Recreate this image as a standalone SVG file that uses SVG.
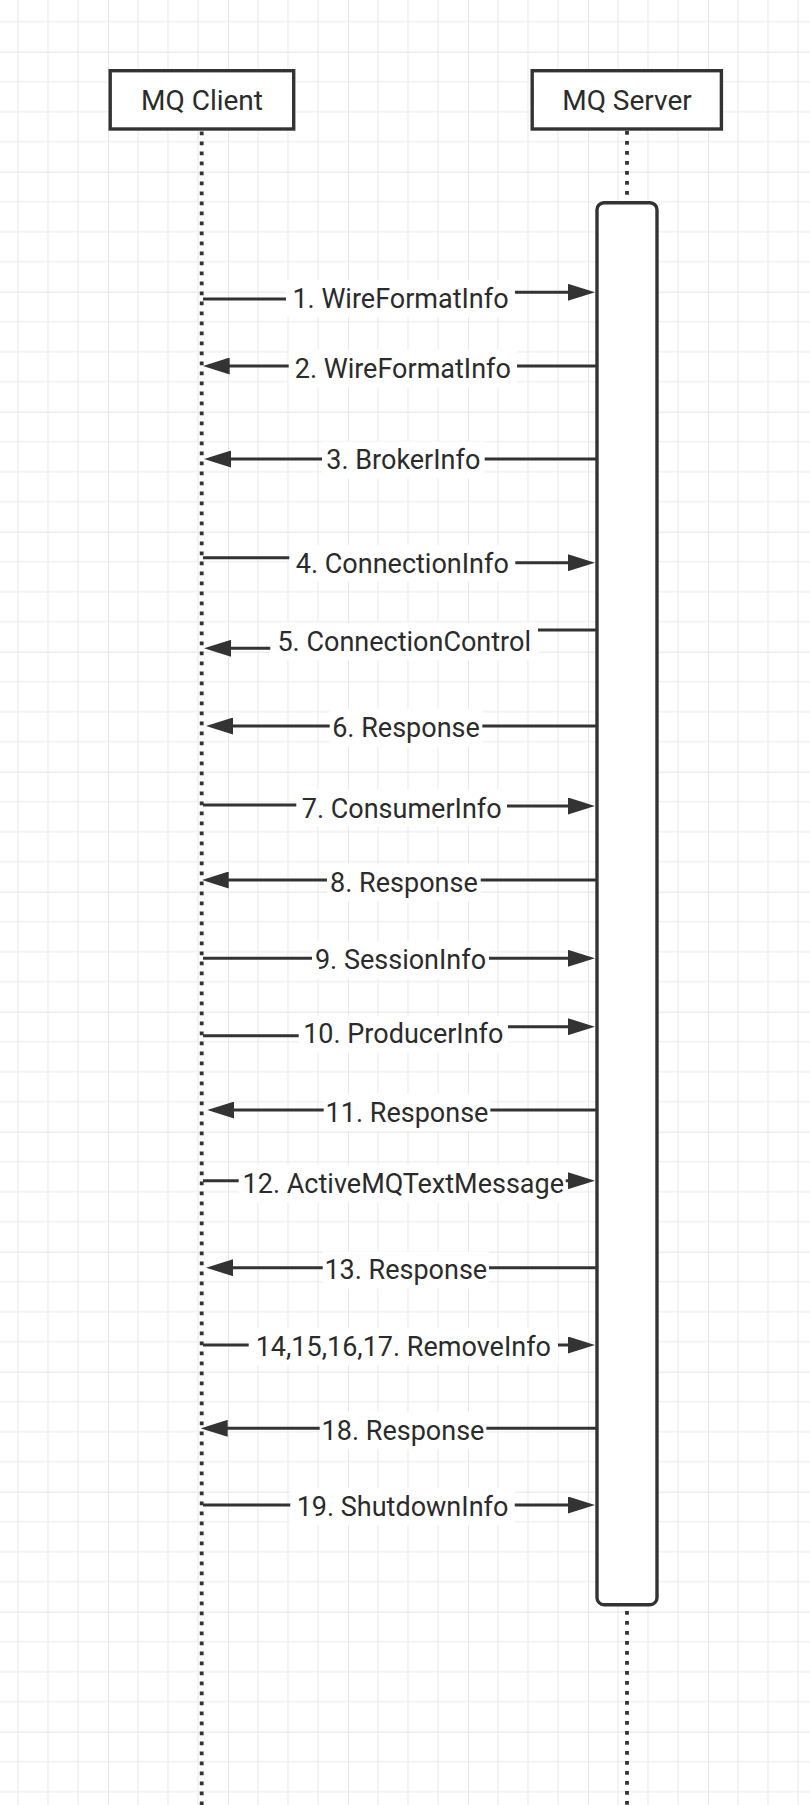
<svg xmlns="http://www.w3.org/2000/svg" width="810" height="1805" viewBox="0 0 810 1805">
<style>
.node{fill:#fff;stroke:#333;stroke-width:3.4}
.life{fill:none;stroke:#333;stroke-width:3.8;stroke-dasharray:3.8 6.2}
.msg{fill:none;stroke:#333;stroke-width:3}
.bg{fill:#fff}
.t{font-family:Roboto,"Noto Sans","Liberation Sans",sans-serif;font-size:27px;fill:#2b2b2b;text-anchor:middle}
.h{font-size:28px}
</style>
<defs>
<pattern id="grid" patternUnits="userSpaceOnUse" x="108" y="51.7" width="120" height="120">
<path d="M30,0V120M60,0V120M90,0V120M0,30H120M0,60H120M0,90H120" stroke="#f1f1f1" stroke-width="1.6" fill="none"/>
<path d="M0,0V120M0,0H120" stroke="#e6e6e6" stroke-width="2" fill="none"/>
</pattern>
<marker id="ah" markerUnits="userSpaceOnUse" markerWidth="27" markerHeight="17" refX="17" refY="8.5" orient="auto">
<path d="M0,0L27,8.5L0,17z" fill="#333"/>
</marker>
</defs>
<rect width="810" height="1805" fill="#fff"/>
<rect width="810" height="1805" fill="url(#grid)"/>

<g id="lifelines">
<path class="life" d="M201.7,131.5V1805"/>
<path class="life" d="M627,131V1805"/>
</g>

<g id="client">
<rect class="node" x="110.2" y="70.7" width="183.5" height="58.3"/>
<text class="t h" x="202" y="109.6">MQ Client</text>
</g>
<g id="server">
<rect class="node" x="532.2" y="70.7" width="189.2" height="58.3"/>
<text class="t h" x="627" y="109.6">MQ Server</text>
</g>
<g id="activation">
<rect class="node" x="597" y="202.7" width="60" height="1402" rx="7" ry="7"/>
</g>

<g id="connectors">
<g id="m1"><path class="msg" marker-end="url(#ah)" d="M203,299H400V292.3H585"/><rect class="bg" x="286" y="280" width="229" height="37"/><text class="t" x="400.5" y="307.7">1. WireFormatInfo</text></g>
<g id="m2"><path class="msg" marker-end="url(#ah)" d="M597,366H212.7"/><rect class="bg" x="288.7" y="350" width="228.3" height="37"/><text class="t" x="402.8" y="377.7">2. WireFormatInfo</text></g>
<g id="m3"><path class="msg" marker-end="url(#ah)" d="M597,459H214"/><rect class="bg" x="322" y="441.6" width="162.7" height="37"/><text class="t" x="403.3" y="469.3">3. BrokerInfo</text></g>
<g id="m4"><path class="msg" marker-end="url(#ah)" d="M203,557.7H400V562.7H585"/><rect class="bg" x="289.3" y="545" width="226" height="37"/><text class="t" x="402.3" y="572.7">4. ConnectionInfo</text></g>
<g id="m5"><path class="msg" marker-end="url(#ah)" d="M597,630H400V648.3H214"/><rect class="bg" x="270.3" y="623.3" width="267.7" height="37"/><text class="t" x="404.2" y="651">5. ConnectionControl</text></g>
<g id="m6"><path class="msg" marker-end="url(#ah)" d="M597,726H216"/><rect class="bg" x="329.7" y="709.3" width="152.6" height="37"/><text class="t" x="406" y="737">6. Response</text></g>
<g id="m7"><path class="msg" marker-end="url(#ah)" d="M203,805H400V806H585"/><rect class="bg" x="296.3" y="789.8" width="210.7" height="37"/><text class="t" x="401.7" y="817.5">7. ConsumerInfo</text></g>
<g id="m8"><path class="msg" marker-end="url(#ah)" d="M597,880H211.7"/><rect class="bg" x="327" y="864.3" width="153.7" height="37"/><text class="t" x="403.9" y="892">8. Response</text></g>
<g id="m9"><path class="msg" marker-end="url(#ah)" d="M203,958.3H585"/><rect class="bg" x="312" y="941.6" width="177" height="37"/><text class="t" x="400.5" y="969.3">9. SessionInfo</text></g>
<g id="m10"><path class="msg" marker-end="url(#ah)" d="M203,1035.7H400V1026.7H585"/><rect class="bg" x="298.7" y="1015.6" width="209.3" height="37"/><text class="t" x="403.3" y="1043.3">10. ProducerInfo</text></g>
<g id="m11"><path class="msg" marker-end="url(#ah)" d="M597,1110H217.3"/><rect class="bg" x="323.7" y="1094" width="166.6" height="37"/><text class="t" x="407" y="1121.7">11. Response</text></g>
<g id="m12"><path class="msg" marker-end="url(#ah)" d="M203,1180.7H585"/><rect class="bg" x="238.7" y="1165" width="327" height="37"/><text class="t" x="403.3" y="1192.7">12. ActiveMQTextMessage</text></g>
<g id="m13"><path class="msg" marker-end="url(#ah)" d="M597,1267.7H216"/><rect class="bg" x="322.7" y="1251.6" width="166.3" height="37"/><text class="t" x="405.8" y="1279.3">13. Response</text></g>
<g id="m14"><path class="msg" marker-end="url(#ah)" d="M203,1345H585"/><rect class="bg" x="248.7" y="1328.3" width="309.3" height="37"/><text class="t" x="403.3" y="1356">14,15,16,17. RemoveInfo</text></g>
<g id="m18"><path class="msg" marker-end="url(#ah)" d="M597,1428.3H210.7"/><rect class="bg" x="319.7" y="1412.3" width="166.6" height="37"/><text class="t" x="403" y="1440">18. Response</text></g>
<g id="m19"><path class="msg" marker-end="url(#ah)" d="M203,1505H585"/><rect class="bg" x="290.3" y="1488.3" width="224.4" height="37"/><text class="t" x="402.5" y="1516">19. ShutdownInfo</text></g>
</g>
</svg>
